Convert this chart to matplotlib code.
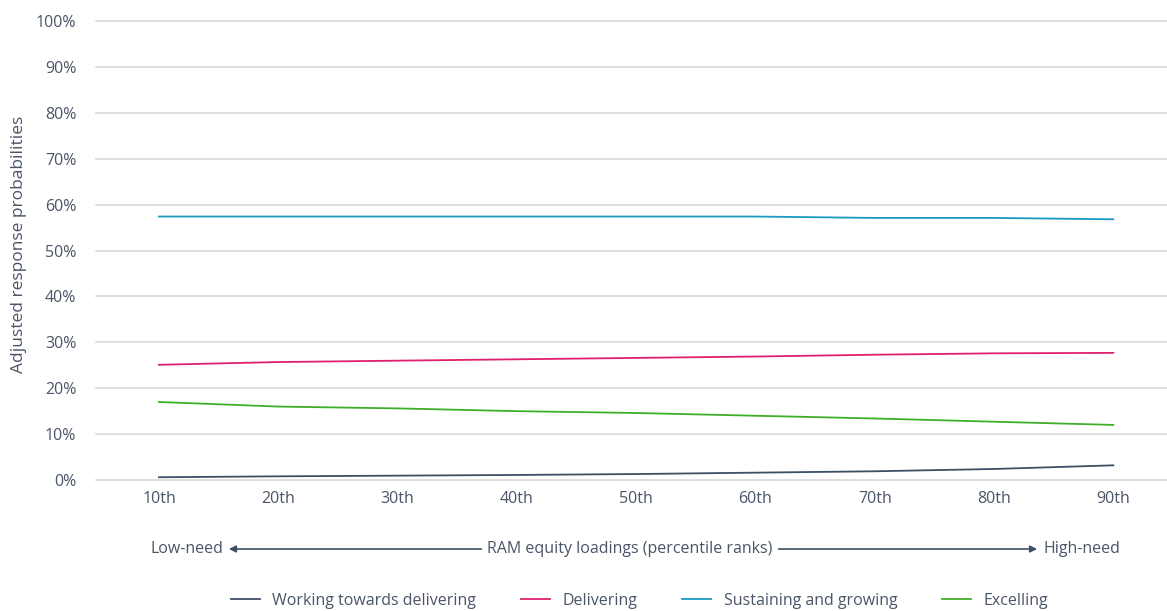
import numpy as np
import matplotlib
matplotlib.use("Agg")
import matplotlib.pyplot as plt
from matplotlib import font_manager
from matplotlib.patches import FancyArrowPatch

# -----------------------------
# DATA
# -----------------------------
percentiles = ["10th", "20th", "30th", "40th", "50th", "60th", "70th", "80th", "90th"]
working = [0.6, 0.8, 0.95, 1.1, 1.3, 1.6, 1.9, 2.4, 3.2]
delivering = [25.1, 25.7, 26.0, 26.3, 26.6, 26.9, 27.3, 27.6, 27.7]
sustaining = [57.4, 57.4, 57.4, 57.4, 57.4, 57.4, 57.1, 57.1, 56.8]
excelling = [17.0, 16.0, 15.6, 15.0, 14.6, 14.0, 13.4, 12.7, 12.0]
series_names = ["Working towards delivering", "Delivering", "Sustaining and growing", "Excelling"]

# -----------------------------
# STYLE
# -----------------------------
narrow = sorted({f.name for f in font_manager.fontManager.ttflist
                 if "Narrow" in f.name or "Condensed" in f.name or f.stretch not in ("normal", 400)})
print(narrow)
plt.rcParams["font.family"] = ["Open Sans", "DejaVu Sans"]
text_col = "#4a5568"
colors = ["#3d4f63", "#e0206f", "#1a9bbf", "#3fae2a"]
W, H = 1167, 611

fig = plt.figure(figsize=(11.67, 6.11), dpi=100)
ax = fig.add_axes([0.082, 0.2144, 0.918, 0.7512])

x = np.arange(len(percentiles))
for vals, c, name in zip([working, delivering, sustaining, excelling], colors, series_names):
    ax.plot(x, np.array(vals) / 100, color=c, lw=1.3, label=name)

ax.set_xlim(-0.53, 8.45)
ax.set_ylim(0, 1)
ax.set_yticks(np.arange(0, 1.01, 0.1))
ax.set_yticklabels([f"{int(v)}%" for v in np.arange(0, 101, 10)])
ax.set_xticks(x)
ax.set_xticklabels(percentiles)
ax.tick_params(length=0, labelsize=11.5, colors=text_col, pad=8)
ax.tick_params(axis="y", pad=14)
for s in ax.spines.values():
    s.set_visible(False)
ax.grid(axis="y", color="#d9d9d9", lw=1.2)
ax.set_axisbelow(True)
for gl in ax.get_ygridlines():
    gl.set_clip_on(False)

fig.text(0.016, 0.6, "Adjusted response probabilities", rotation=90, va="center", ha="center",
         fontsize=12.5, color=text_col)

# -----------------------------
# ARROW ROW
# -----------------------------
ay = 1 - 549 / H
t_low = fig.text(150 / W, ay, "Low-need", ha="left", va="center", fontsize=11.5, color=text_col)
t_mid = fig.text(630 / W, ay, "RAM equity loadings (percentile ranks)", ha="center", va="center",
                 fontsize=11.5, color=text_col)
t_high = fig.text(1120 / W, ay, "High-need", ha="right", va="center", fontsize=11.5, color=text_col)

fig.canvas.draw()
r = fig.canvas.get_renderer()
b_low = t_low.get_window_extent(r)
b_mid = t_mid.get_window_extent(r)
b_high = t_high.get_window_extent(r)
gap = 6
arrowprops = dict(arrowstyle="-|>", color="#3d4f63", lw=1.2, mutation_scale=10, shrinkA=0, shrinkB=0)
fig.add_artist(FancyArrowPatch(((b_mid.x0 - gap) / W, ay), ((b_low.x1 + gap) / W, ay),
                               transform=fig.transFigure, **arrowprops))
fig.add_artist(FancyArrowPatch(((b_mid.x1 + gap) / W, ay), ((b_high.x0 - gap) / W, ay),
                               transform=fig.transFigure, **arrowprops))

# -----------------------------
# LEGEND
# -----------------------------
fig.legend(loc="center", bbox_to_anchor=(0.548, 1 - 601 / H), ncol=4, frameon=False,
           fontsize=11.5, labelcolor=text_col, handlelength=1.8, columnspacing=2.8)

plt.savefig("out.png", dpi=100)
